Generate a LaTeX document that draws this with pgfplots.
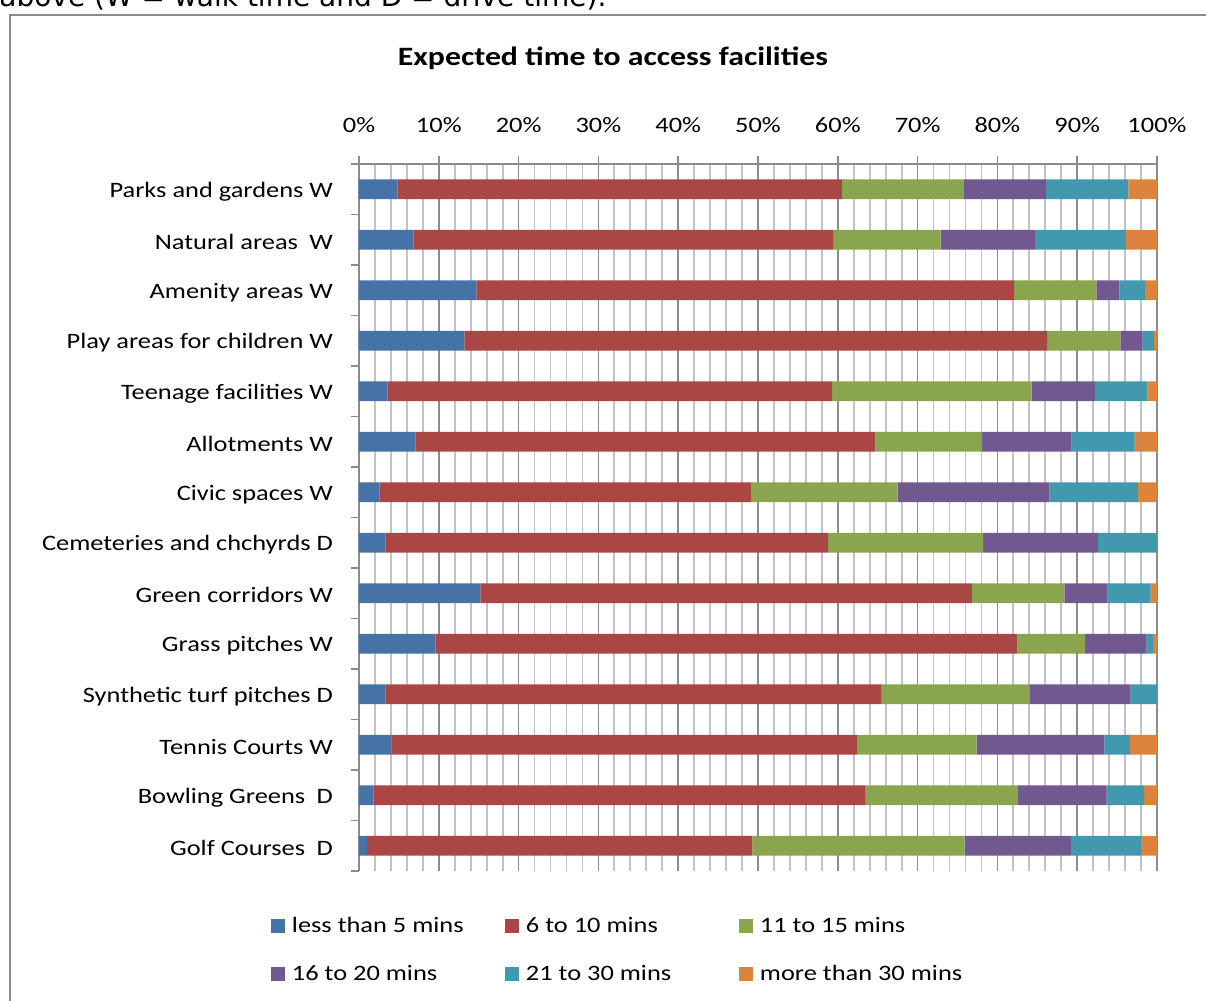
\documentclass[border=0pt]{standalone}
\usepackage{pgfplots}
\pgfplotsset{compat=1.18}
\usepackage{pgfplotstable}
\usepackage{fontspec}
\setmainfont[FakeStretch=1.2]{Carlito}
\newfontfamily\bodyfont{DejaVu Sans}

\definecolor{lt5}{HTML}{4572A7}
\definecolor{m6to10}{HTML}{AA4643}
\definecolor{m11to15}{HTML}{89A54E}
\definecolor{m16to20}{HTML}{71588F}
\definecolor{m21to30}{HTML}{4198AF}
\definecolor{gt30}{HTML}{DB843D}
\definecolor{framegray}{HTML}{8A8A8A}

% share of respondents (%) by expected travel time; y = row position (top row = 14)
\pgfplotstableread{
y  a    b    c    d    e    f
14 4.8  55.7 15.3 10.3 10.3 3.6
13 6.8  52.6 13.5 11.8 11.4 3.9
12 14.7 67.4 10.3 2.9  3.2  1.5
11 13.2 73.1 9.1  2.8  1.4  0.4
10 3.6  55.7 25.0 7.9  6.6  1.2
9  7.1  57.6 13.4 11.2 7.9  2.8
8  2.6  46.5 18.4 19.0 11.1 2.4
7  3.3  55.5 19.4 14.4 7.4  0.0
6  15.2 61.6 11.6 5.4  5.4  0.8
5  9.6  72.9 8.5  7.7  0.8  0.5
4  3.3  62.2 18.5 12.7 3.3  0.0
3  4.1  58.3 15.0 16.0 3.2  3.4
2  1.8  61.7 19.1 11.1 4.7  1.6
1  1.0  48.3 26.6 13.3 8.8  2.0
}\facilities

\newcommand{\lbl}{\fontsize{11}{13}\selectfont}

\begin{document}
\begin{tikzpicture}
\path[use as bounding box] (0pt,0pt) rectangle (603pt,-500.5pt);
\clip (0pt,0pt) rectangle (603pt,-500.5pt);

\begin{scope}[x=0.5pt,y=-0.5pt]
  \node[anchor=base west, inner sep=0pt, font=\bodyfont\fontsize{14}{16}\selectfont]
    at (-1,6) {above (W = walk time and D = drive time).};
  \draw[draw=framegray, line width=1pt] (10,1020) -- (10,15) -- (1230,15);
  \node[font=\bfseries\fontsize{13.25}{15}\selectfont] at (613,58)
    {Expected time to access facilities};
\end{scope}

\begin{axis}[
  scale only axis, width=399pt, height=353.5pt,
  at={(179.5pt,-82pt)}, anchor=north west,
  xbar stacked, bar width=9.8pt,
  xmin=0, xmax=100, ymin=0.5, ymax=14.5,
  axis x line*=top, axis y line*=left,
  axis line style={draw=black!45, line width=0.75pt},
  xtick={0,10,...,100},
  minor x tick num=4,
  xmajorgrids, xminorgrids,
  major grid style={draw=black!45, line width=0.8pt},
  minor grid style={draw=black!24, line width=0.9pt},
  /pgf/number format/assume math mode=true,
  xticklabel={\pgfmathprintnumber{\tick}\%},
  xticklabel style={yshift=8pt},
  tick align=outside,
  major tick length=4pt, minor tick length=0pt,
  xtick style={draw=black!45, line width=0.75pt},
  tick label style={font=\lbl},
  ytick={1,...,14},
  yticklabels={Golf Courses\hspace{0.25em} D, Bowling Greens\hspace{0.25em} D, Tennis Courts W,
    Synthetic turf pitches D, Grass pitches W, Green corridors W,
    Cemeteries and chchyrds D, Civic spaces W, Allotments W, Teenage facilities W,
    Play areas for children W, Amenity areas W, Natural areas\hspace{0.25em} W,
    Parks and gardens W},
  ytick style={draw=none},
  yticklabel style={xshift=-5.5pt, yshift=-1pt},
  extra y ticks={0.5,1.5,...,14.5},
  extra y tick labels={},
  extra y tick style={ytick style={draw=black!45, line width=0.75pt}},
  legend columns=3,
  legend cell align=left,
  legend style={at={(-0.1103,-0.0645)}, anchor=north west, draw=none, fill=none,
    inner sep=0pt, outer sep=0pt, font=\lbl, row sep=14pt,
    nodes={inner sep=0pt, text height=8pt, text depth=2pt},
    /tikz/every odd column/.append style={column sep=3.5pt}},
  legend image code/.code={\fill[#1] (0pt,-3pt) rectangle (7pt,4pt);},
]
\addplot[fill=lt5, draw=none] table[x=a, y=y] {\facilities};
\addplot[fill=m6to10, draw=none] table[x=b, y=y] {\facilities};
\addplot[fill=m11to15, draw=none] table[x=c, y=y] {\facilities};
\addplot[fill=m16to20, draw=none] table[x=d, y=y] {\facilities};
\addplot[fill=m21to30, draw=none] table[x=e, y=y] {\facilities};
\addplot[fill=gt30, draw=none] table[x=f, y=y] {\facilities};
\legend{\makebox[106.5pt][l]{less than 5 mins}, \makebox[106.5pt][l]{6 to 10 mins},
  11 to 15 mins, \makebox[106.5pt][l]{16 to 20 mins}, \makebox[106.5pt][l]{21 to 30 mins},
  more than 30 mins}
\end{axis}
\end{tikzpicture}
\end{document}
